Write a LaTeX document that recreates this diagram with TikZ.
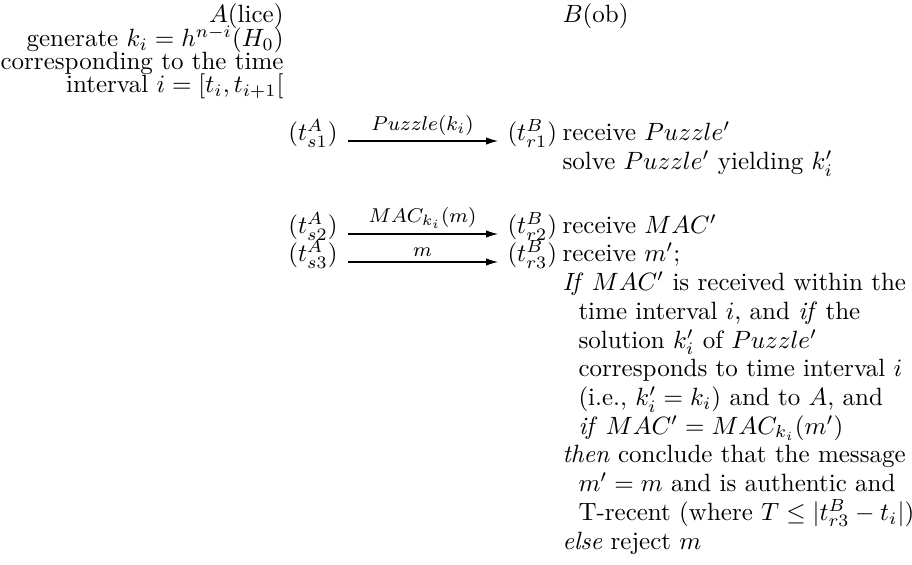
\documentclass[tikz,border=0pt]{standalone}
\usetikzlibrary{arrows.meta}
\begin{document}
\begin{tikzpicture}[x=0.4pt,y=-0.4pt,
  lcol/.style={anchor=base east, inner sep=0pt},
  rcol/.style={anchor=base west, inner sep=0pt},
  msg/.style={-{Latex[length=4.8pt,width=3pt]}, line width=0.5pt, shorten <=4pt, shorten >=3.6pt},
  lbl/.style={midway, above, inner sep=1.8pt, font=\footnotesize}]
\useasboundingbox (0,0) rectangle (912,565);
% headers and Alice's column
\node[lcol] (A) at (284,23) {$A$(lice)};
\node[lcol] (gen) at (284,46.7) {generate $k_i = h^{n-i}(H_0)$};
\node[lcol] (corr) at (284,70) {corresponding to the time};
\node[lcol] (intv) at (284,93) {interval $i = [t_i, t_{i+1}[$};
\node[rcol] (B) at (562,23) {$B$(ob)};
% time stamps
\node[lcol] (s1) at (338,141) {$(t^A_{s1})$};
\node[lcol] (s2) at (338,234) {$(t^A_{s2})$};
\node[lcol] (s3) at (338,262) {$(t^A_{s3})$};
\node[rcol] (r1) at (507,141) {$(t^B_{r1})$};
\node[rcol] (r2) at (507,234) {$(t^B_{r2})$};
\node[rcol] (r3) at (507,262) {$(t^B_{r3})$};
% messages
\draw[msg] (s1.base east) -- (r1.base west) node[lbl] {$Puzzle(k_i)$};
\draw[msg] (s2.base east) -- (r2.base west) node[lbl] {$MAC_{k_i}(m)$};
\draw[msg] (s3.base east) -- (r3.base west) node[lbl] {$m$};
% Bob's column
\node[rcol] (rc1) at (562,141) {receive $Puzzle'$};
\node[rcol] (slv) at (562,170) {solve $Puzzle'$ yielding $k_i'$};
\node[rcol] (rc2) at (562,234) {receive $MAC'$};
\node[rcol] (rc3) at (562,262) {receive $m'$;};
\node[rcol] (c1) at (562,290.7) {\emph{If} $MAC'$ is received within the};
\node[rcol] (c2) at (578,319.4) {time interval $i$, and \emph{if} the};
\node[rcol] (c3) at (578,348.1) {solution $k_i'$ of $Puzzle'$};
\node[rcol] (c4) at (578,376.8) {corresponds to time interval $i$};
\node[rcol] (c5) at (578,405.5) {(i.e., $k_i' = k_i$) and to $A$, and};
\node[rcol] (c6) at (578,434.2) {\emph{if} $MAC' = MAC_{k_i}(m')$};
\node[rcol] (c7) at (562,462.9) {\emph{then} conclude that the message};
\node[rcol] (c8) at (578,491.6) {$m' = m$ and is authentic and};
\node[rcol] (c9) at (578,520.3) {T-recent (where $T \leq |t^B_{r3} - t_i|$)};
\node[rcol] (c10) at (562,549) {\emph{else} reject $m$};
\end{tikzpicture}
\end{document}
